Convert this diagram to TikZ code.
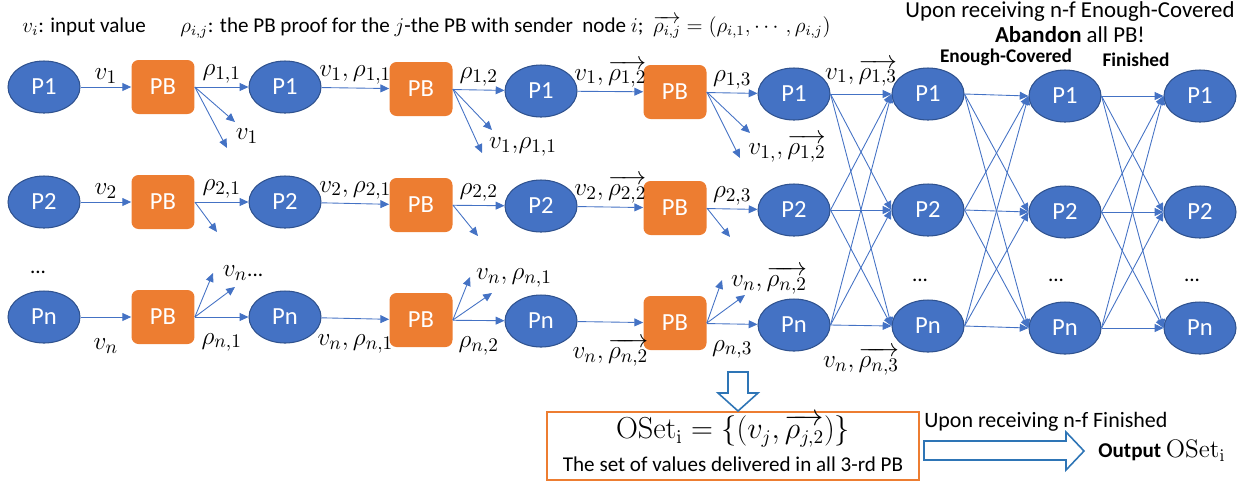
\documentclass[tikz,border=0pt]{standalone}
\usepackage{amsmath}
\usepackage[no-math]{fontspec}
\setmainfont{Carlito}
\usetikzlibrary{shapes.geometric, arrows.meta}

\definecolor{nodeblue}{HTML}{4472C4}
\definecolor{rimblue}{HTML}{2F528F}
\definecolor{pborange}{HTML}{ED7D31}
\definecolor{arrowblue}{HTML}{2E75B6}

\tikzset{
	proc/.style = {ellipse, draw = rimblue, line width = 0.6pt, fill = nodeblue, text = white, minimum width = 1.44cm, minimum height = 1.04cm, inner sep = 0pt, font = \fontsize{14}{16}\selectfont},
	pbbox/.style = {rectangle, rounded corners = 4pt, fill = pborange, text = white, minimum width = 1.26cm, minimum height = 1.08cm, inner sep = 0pt, font = \fontsize{14}{16}\selectfont},
	msg/.style = {draw = nodeblue, line width = 0.5pt, -{Triangle[length = 5pt, width = 4.5pt]}},
	lbl/.style = {font = \fontsize{15}{17}\selectfont, inner sep = 2pt},
	note/.style = {font = \fontsize{12}{14}\selectfont, inner sep = 0pt},
	bignote/.style = {font = \fontsize{13}{15}\selectfont, inner sep = 0pt},
	head/.style = {font = \fontsize{11}{13}\selectfont\bfseries, inner sep = 0pt},
	block/.style = {draw = arrowblue, line width = 0.9pt, fill = white}
}

\begin{document}
\begin{tikzpicture}[x = 0.02cm, y = -0.02cm]
\useasboundingbox (0,0) rectangle (1239,485);
% Legend
\node[note, anchor = west] (legv) at (22, 27) {$v_i$: input value};
\node[note, anchor = west] (legrho) at (180, 27) {$\rho_{i,j}$: the PB proof for the $j$-the PB with sender\ \ node $i$;\ \ $\overrightarrow{\rho_{i,j}} = (\rho_{i,1},\cdots,\rho_{i,j})$};
\node[bignote] (abandona) at (1070, 12) {Upon receiving n-f Enough-Covered};
\node[bignote] (abandonb) at (1070, 35) {\textbf{Abandon} all PB!};
\node[head] (hdcov) at (1006, 57) {Enough-Covered};
\node[head] (hdfin) at (1136, 60) {Finished};

%Row 1
\node[proc] (p1a) at (44, 87) {P1};
\node[pbbox] (pb1a) at (163, 87) {PB};
\node[proc] (p1b) at (285, 87) {P1};
\node[pbbox] (pb1b) at (421, 89) {PB};
\node[proc] (p1c) at (541, 91) {P1};
\node[pbbox] (pb1c) at (675, 92) {PB};
\node[proc] (p1d) at (794, 94) {P1};
\node[proc] (p1e) at (928, 94) {P1};
\node[proc] (p1f) at (1065, 96) {P1};
\node[proc] (p1g) at (1200, 96) {P1};
\draw[msg] (p1a) -- (pb1a) node[pos = 0.5, above, lbl] {$v_1$};
\draw[msg] (pb1a) -- (p1b) node[pos = 0.5, above, lbl] {$\rho_{1,1}$};
\draw[msg] (p1b) -- (pb1b) node[pos = 0.5, above, lbl] {$v_1,\rho_{1,1}$};
\draw[msg] (pb1b) -- (p1c) node[pos = 0.5, above, lbl] {$\rho_{1,2}$};
\draw[msg] (p1c) -- (pb1c) node[pos = 0.5, above, lbl] {$v_1,\overrightarrow{\rho_{1,2}}$};
\draw[msg] (pb1c) -- (p1d) node[pos = 0.5, above, lbl] {$\rho_{1,3}$};
% broadcast to the others
\coordinate (d1a1) at (235, 122);
\coordinate (d1a2) at (227, 148);
\coordinate (d1b1) at (492, 130);
\coordinate (d1b2) at (482, 153);
\coordinate (d1c1) at (750, 133);
\coordinate (d1c2) at (740, 158);
\draw[msg] (pb1a.east) -- (d1a1);
\draw[msg] (pb1a.east) -- (d1a2);
\draw[msg] (pb1b.east) -- (d1b1);
\draw[msg] (pb1b.east) -- (d1b2);
\draw[msg] (pb1c.east) -- (d1c1);
\draw[msg] (pb1c.east) -- (d1c2);
\node[lbl] (l1a) at (247, 136) {$v_1$};
\node[lbl] (l1b) at (523, 147) {$v_1{,}\rho_{1,1}$};
\node[lbl] (l1c) at (787, 148) {$v_{1,},\overrightarrow{\rho_{1,2}}$};

%Row 2
\node[proc] (p2a) at (44, 202) {P2};
\node[pbbox] (pb2a) at (163, 202) {PB};
\node[proc] (p2b) at (285, 202) {P2};
\node[pbbox] (pb2b) at (421, 205) {PB};
\node[proc] (p2c) at (541, 206) {P2};
\node[pbbox] (pb2c) at (675, 208) {PB};
\node[proc] (p2d) at (794, 210) {P2};
\node[proc] (p2e) at (928, 210) {P2};
\node[proc] (p2f) at (1065, 212) {P2};
\node[proc] (p2g) at (1200, 212) {P2};
\draw[msg] (p2a) -- (pb2a) node[pos = 0.5, above, lbl] {$v_2$};
\draw[msg] (pb2a) -- (p2b) node[pos = 0.5, above, lbl] {$\rho_{2,1}$};
\draw[msg] (p2b) -- (pb2b) node[pos = 0.5, above, lbl] {$v_2,\rho_{2,1}$};
\draw[msg] (pb2b) -- (p2c) node[pos = 0.5, above, lbl] {$\rho_{2,2}$};
\draw[msg] (p2c) -- (pb2c) node[pos = 0.5, above, lbl] {$v_2,\overrightarrow{\rho_{2,2}}$};
\draw[msg] (pb2c) -- (p2d) node[pos = 0.5, above, lbl] {$\rho_{2,3}$};
\coordinate (d2a) at (217, 232);
\coordinate (d2b) at (478, 236);
\coordinate (d2c) at (730, 237);
\draw[msg] (pb2a.east) -- (d2a);
\draw[msg] (pb2b.east) -- (d2b);
\draw[msg] (pb2c.east) -- (d2c);

%Row n
\node[note] (dotsa) at (38, 272) {...};
\node[proc] (pna) at (44, 317) {Pn};
\node[pbbox] (pbna) at (163, 317) {PB};
\node[proc] (pnb) at (285, 317) {Pn};
\node[pbbox] (pbnb) at (421, 320) {PB};
\node[proc] (pnc) at (541, 321) {Pn};
\node[pbbox] (pbnc) at (675, 323) {PB};
\node[proc] (pnd) at (794, 325) {Pn};
\node[proc] (pne) at (928, 326) {Pn};
\node[proc] (pnf) at (1065, 328) {Pn};
\node[proc] (png) at (1200, 328) {Pn};
\draw[msg] (pna) -- (pbna) node[pos = 0.5, below = 10pt, lbl] {$v_n$};
\draw[msg] (pbna) -- (pnb) node[pos = 0.5, below = 7pt, lbl] {$\rho_{n,1}$};
\draw[msg] (pnb) -- (pbnb) node[pos = 0.5, below = 7pt, lbl] {$v_n,\rho_{n,1}$};
\draw[msg] (pbnb) -- (pnc) node[pos = 0.5, below = 7pt, lbl] {$\rho_{n,2}$};
\draw[msg] (pnc) -- (pbnc) node[pos = 0.5, below = 7pt, lbl] {$v_n,\overrightarrow{\rho_{n,2}}$};
\draw[msg] (pbnc) -- (pnd) node[pos = 0.5, below = 7pt, lbl] {$\rho_{n,3}$};
\coordinate (dna1) at (213, 273);
\coordinate (dna2) at (235, 287);
\coordinate (dnb1) at (470, 277);
\coordinate (dnb2) at (492, 293);
\coordinate (dnc1) at (722, 280);
\coordinate (dnc2) at (745, 295);
\draw[msg] (pbna.east) -- (dna1);
\draw[msg] (pbna.east) -- (dna2);
\draw[msg] (pbnb.east) -- (dnb1);
\draw[msg] (pbnb.east) -- (dnb2);
\draw[msg] (pbnc.east) -- (dnc1);
\draw[msg] (pbnc.east) -- (dnc2);
\node[lbl] (lna) at (243, 273) {$v_n$\fontsize{12}{14}\selectfont...};
\node[lbl] (lnb) at (514, 278) {$v_n,\rho_{n,1}$};
\node[lbl] (lnc) at (769, 280) {$v_n,\overrightarrow{\rho_{n,2}}$};

% All-to-all rounds
\node[note] (dotse) at (920, 280) {...};
\node[note] (dotsf) at (1056, 280) {...};
\node[note] (dotsg) at (1192, 280) {...};
\draw[msg] (p1d.east) -- (p1e.west) node[pos = 0.5, above = 2pt, lbl] {$v_1,\overrightarrow{\rho_{1,3}}$};
\draw[msg] (p1d.east) -- (p2e.west);
\draw[msg] (p1d.east) -- (pne.west);
\draw[msg] (p2d.east) -- (p1e.west);
\draw[msg] (p2d.east) -- (p2e.west);
\draw[msg] (p2d.east) -- (pne.west);
\draw[msg] (pnd.east) -- (p1e.west);
\draw[msg] (pnd.east) -- (p2e.west);
\draw[msg] (pnd.east) -- (pne.west) node[pos = 0.5, below = 10pt, lbl] {$v_n,\overrightarrow{\rho_{n,3}}$};
%Enough-Covered
\draw[msg] (p1e.east) -- (p1f.west);
\draw[msg] (p1e.east) -- (p2f.west);
\draw[msg] (p1e.east) -- (pnf.west);
\draw[msg] (p2e.east) -- (p1f.west);
\draw[msg] (p2e.east) -- (p2f.west);
\draw[msg] (p2e.east) -- (pnf.west);
\draw[msg] (pne.east) -- (p1f.west);
\draw[msg] (pne.east) -- (p2f.west);
\draw[msg] (pne.east) -- (pnf.west);
%Finished
\draw[msg] (p1f.east) -- (p1g.west);
\draw[msg] (p1f.east) -- (p2g.west);
\draw[msg] (p1f.east) -- (png.west);
\draw[msg] (p2f.east) -- (p1g.west);
\draw[msg] (p2f.east) -- (p2g.west);
\draw[msg] (p2f.east) -- (png.west);
\draw[msg] (pnf.east) -- (p1g.west);
\draw[msg] (pnf.east) -- (p2g.west);
\draw[msg] (pnf.east) -- (png.west);

% Output set
\node[draw = pborange, line width = 0.8pt, minimum width = 7.44cm, minimum height = 1.36cm, inner sep = 0pt] (oset) at (733, 446) {};
\node[lbl, font = \fontsize{16}{18}\selectfont] (osetf) at (733, 431) {$\mathrm{OSet}_{\mathrm{i}} = \{(v_j,\overrightarrow{\rho_{j,2}})\}$};
\node[note] (osett) at (733, 464) {The set of values delivered in all 3-rd PB};
\draw[block] (728,372) -- (748,372) -- (748,393) -- (758,393) -- (738,411) -- (718,393) -- (728,393) -- cycle;
\draw[block] (924,441) -- (1066,441) -- (1066,432) -- (1084,451) -- (1066,470) -- (1066,460) -- (924,460) -- cycle;
\node[note, anchor = west, font = \fontsize{12.5}{15}\selectfont] (finrec) at (924, 422) {Upon receiving n-f Finished};
\node[note, anchor = west] (outp) at (1098, 451) {\textbf{Output} {\fontsize{14}{16}\selectfont$\mathrm{OSet}_{\mathrm{i}}$}};
\end{tikzpicture}
\end{document}
